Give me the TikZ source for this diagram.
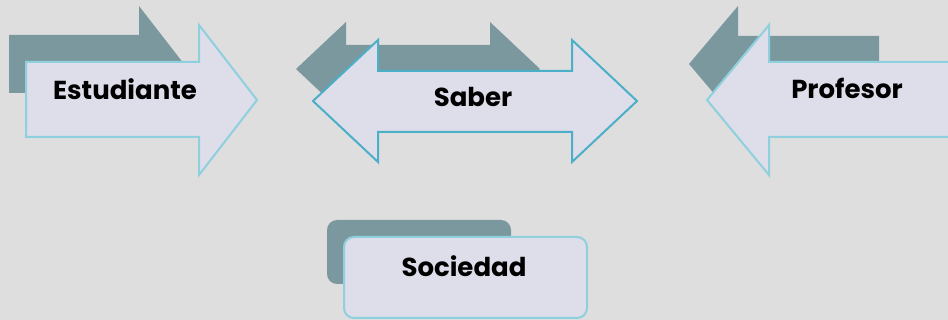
\documentclass[tikz,border=0pt]{standalone}
\usepackage{fontspec}
\setmainfont{Poppins}
\usepackage{tikz}
\usetikzlibrary{positioning,calc}
\definecolor{bgray}{RGB}{222,222,222}
\definecolor{shadegray}{RGB}{123,152,158}
\definecolor{lavender}{RGB}{222,221,234}
\definecolor{paleblue}{RGB}{142,208,222}
\definecolor{deepblue}{RGB}{75,175,200}
\tikzset{
  back/.style={fill=shadegray, draw=none},
  front/.style={fill=lavender, draw=paleblue, line width=1pt, line join=miter},
  frontdark/.style={front, draw=deepblue},
  lbl/.style={anchor=base, font=\bfseries\fontsize{13}{15}\selectfont, inner sep=0pt}
}

\begin{document}
\begin{tikzpicture}[x=0.5pt, y=-0.5pt]
\useasboundingbox (0,0) rectangle (948,320);
\clip (0,0) rectangle (948,320);
\fill[bgray] (0,0) rectangle (948,320);
% Estudiante
\fill[back] (9,35) -- (139,35) -- (139,6) -- (184,64) -- (139,122) -- (139,93) -- (9,93) -- cycle;
\draw[front] (26,62) -- (199,62) -- (199,25) -- (257,100) -- (199,175) -- (199,137) -- (26,137) -- cycle;
\node[lbl] (estudiante) at (125,100) {Estudiante};
% Saber
\fill[back] (296,69) -- (346,22) -- (346,45) -- (490,45) -- (490,22) -- (540,69) -- (490,116) -- (490,93) -- (346,93) -- (346,116) -- cycle;
\draw[frontdark] (313,101) -- (378,40) -- (378,71) -- (572,71) -- (572,40) -- (637,101) -- (572,162) -- (572,132) -- (378,132) -- (378,162) -- cycle;
\node[lbl] (saber) at (473,107) {Saber};
% Profesor
\fill[back] (689,64) -- (738,6) -- (738,36) -- (879,36) -- (879,93) -- (738,93) -- (738,122) -- cycle;
\draw[front] (707,100) -- (769,25) -- (769,62) -- (960,62) -- (960,137) -- (769,137) -- (769,175) -- cycle;
\node[lbl] (profesor) at (847,99) {Profesor};
% Sociedad
\fill[back, rounded corners=5pt] (327,220) rectangle (511,284);
\draw[front, rounded corners=5pt] (344,237) rectangle (587,318);
\node[lbl] (sociedad) at (464,277) {Sociedad};
\end{tikzpicture}
\end{document}
